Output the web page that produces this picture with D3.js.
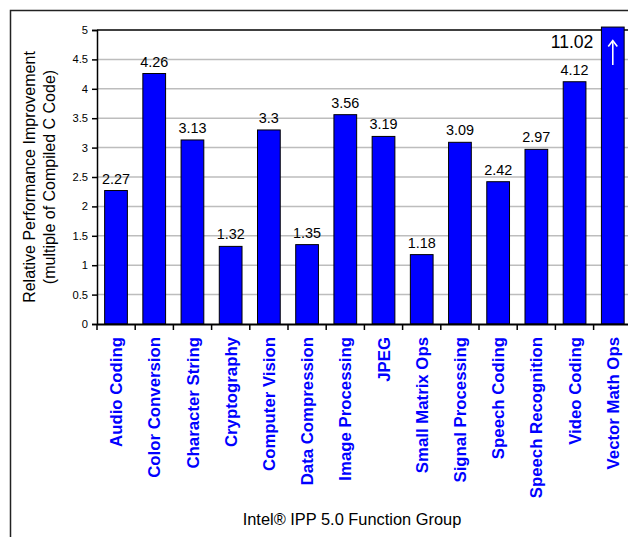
<!DOCTYPE html>
<html>
<head>
<meta charset="utf-8">
<script src="https://cdn.jsdelivr.net/npm/d3@7"></script>
<style>
  body { margin: 0; background: white; }
  text { font-family: "Liberation Sans", Arial, sans-serif; }
</style>
</head>
<body>
<div id="chart"></div>
<script>
var groups = ["Audio Coding", "Color Conversion", "Character String", "Cryptography",
    "Computer Vision", "Data Compression", "Image Processing", "JPEG", "Small Matrix Ops",
    "Signal Processing", "Speech Coding", "Speech Recognition", "Video Coding", "Vector Math Ops"];
var speedups = [2.27, 4.26, 3.13, 1.32, 3.3, 1.35, 3.56, 3.19, 1.18, 3.09, 2.42, 2.97, 4.12, 11.02];
var yTicks = [0, 0.5, 1, 1.5, 2, 2.5, 3, 3.5, 4, 4.5, 5];

var width = 628;
var height = 537;
var plotLeft = 97, plotTop = 30, plotBottom = 324;
var yMax = 5;

var canvas = d3.select("#chart")
    .append("svg")
    .attr("width", width)
    .attr("height", height)

canvas.append("rect")
    .attr("width", width)
    .attr("height", height)
    .attr("fill", "white")

// outer frame (only top and left visible)
canvas.append("path")
    .attr("d", "M10.5," + height + "V10.5H" + width)
    .attr("fill", "none")
    .attr("stroke", "#222")
    .attr("stroke-width", 1.5)

var data = groups.map(function(g, i) { return { name: g, value: speedups[i] }; });

var x = d3.scaleBand().domain(groups).range([plotLeft, plotLeft + 38.2 * groups.length]).paddingInner(0.405).paddingOuter(0.2);
var xTickScale = d3.scaleBand().domain(groups).range([plotLeft, plotLeft + 38.2 * groups.length]);
var y = d3.scaleLinear().domain([0, yMax]).range([plotBottom, plotTop]);

// gridlines
canvas.selectAll(".grid")
    .data(yTicks.slice(1, -1))
    .enter().append("line")
    .attr("class", "grid")
    .attr("x1", plotLeft)
    .attr("x2", width)
    .attr("y1", function(d) { return y(d); })
    .attr("y2", function(d) { return y(d); })
    .attr("stroke", "#bdbdbd")
    .attr("stroke-width", 1.5)

// plot top border
canvas.append("line")
    .attr("x1", plotLeft).attr("x2", width)
    .attr("y1", y(yMax)).attr("y2", y(yMax))
    .attr("stroke", "black")
    .attr("stroke-width", 1.5)

// bars (Vector Math Ops runs off the top of the scale)
canvas.selectAll(".bar")
    .data(data)
    .enter().append("rect")
    .attr("class", "bar")
    .attr("x", function(d) { return x(d.name); })
    .attr("width", x.bandwidth())
    .attr("y", function(d) { return y(Math.min(d.value, yMax + 0.05)); })
    .attr("height", function(d) { return plotBottom - y(Math.min(d.value, yMax + 0.05)); })
    .attr("fill", "#0000ff")
    .style("stroke", "black")
    .style("stroke-width", "1px")

// value labels
canvas.selectAll(".val")
    .data(data.filter(function(d) { return d.value <= yMax; }))
    .enter().append("text")
    .attr("class", "val")
    .attr("x", function(d) { return x(d.name) + x.bandwidth() / 2; })
    .attr("y", function(d) { return y(d.value) - 7; })
    .attr("text-anchor", "middle")
    .style("font-size", "14.4px")
    .text(function(d) { return String(d.value); })

var big = data.filter(function(d) { return d.value > yMax; });
canvas.selectAll(".bigval")
    .data(big)
    .enter().append("text")
    .attr("class", "bigval")
    .attr("x", function(d) { return x(d.name) - 8; })
    .attr("y", 48)
    .attr("text-anchor", "end")
    .style("font-size", "17.6px")
    .text(function(d) { return String(d.value); })

// off-scale marker: thin white arrow inside the clipped bar
var arrow = canvas.selectAll(".arrow")
    .data(big)
    .enter().append("g")
    .attr("class", "arrow")
    .attr("transform", function(d) { return "translate(" + (x(d.name) + x.bandwidth() / 2) + ",40)"; })
arrow.append("line")
    .attr("x1", 0).attr("x2", 0)
    .attr("y1", 1).attr("y2", 25)
    .attr("stroke", "white")
    .attr("stroke-width", 1.6)
arrow.append("path")
    .attr("d", "M-4.5,6.5L0,0.5L4.5,6.5")
    .attr("fill", "none")
    .attr("stroke", "white")
    .attr("stroke-width", 1.6)

// y axis
var yAxis = canvas.append("g")
    .attr("class", "yAxis")
    .attr("transform", "translate(" + plotLeft + ",0)")
    .call(d3.axisLeft(y).tickValues(yTicks).tickFormat(function(d) { return String(d); }).tickSize(5).tickPadding(4))
yAxis.select(".domain").attr("stroke-width", 1.5)
yAxis.selectAll("line").attr("stroke-width", 1.5)
yAxis.selectAll("text").style("font-size", "11.2px").attr("fill", "black")

// x axis
var xAxis = canvas.append("g")
    .attr("class", "xAxis")
    .attr("transform", "translate(0," + plotBottom + ")")
    .call(d3.axisBottom(xTickScale).tickSize(0).tickFormat(""))
xAxis.select(".domain").attr("stroke-width", 2)

canvas.selectAll(".xtick")
    .data(groups)
    .enter().append("line")
    .attr("class", "xtick")
    .attr("x1", function(d) { return xTickScale(d); })
    .attr("x2", function(d) { return xTickScale(d); })
    .attr("y1", plotBottom)
    .attr("y2", plotBottom + 6)
    .attr("stroke", "black")
    .attr("stroke-width", 1.5)

canvas.selectAll(".xlabel")
    .data(groups)
    .enter().append("text")
    .attr("class", "xlabel")
    .attr("transform", function(d) {
        return "translate(" + (xTickScale(d) + xTickScale.bandwidth() / 2 + 6) + "," + (plotBottom + 13) + ") rotate(-90)";
    })
    .attr("text-anchor", "end")
    .attr("fill", "#0000ff")
    .style("font-size", "16.8px")
    .style("font-weight", "bold")
    .text(function(d) { return d; })

// axis titles
canvas.append("text")
    .attr("transform", "translate(35," + ((plotTop + plotBottom) / 2) + ") rotate(-90)")
    .attr("text-anchor", "middle")
    .style("font-size", "16px")
    .text("Relative Performance Improvement")

canvas.append("text")
    .attr("transform", "translate(55," + ((plotTop + plotBottom) / 2) + ") rotate(-90)")
    .attr("text-anchor", "middle")
    .style("font-size", "16px")
    .text("(multiple of Compiled C Code)")

canvas.append("text")
    .attr("x", 352)
    .attr("y", 525)
    .attr("text-anchor", "middle")
    .style("font-size", "16.4px")
    .text("Intel\u00ae IPP 5.0 Function Group")
</script>
</body>
</html>
